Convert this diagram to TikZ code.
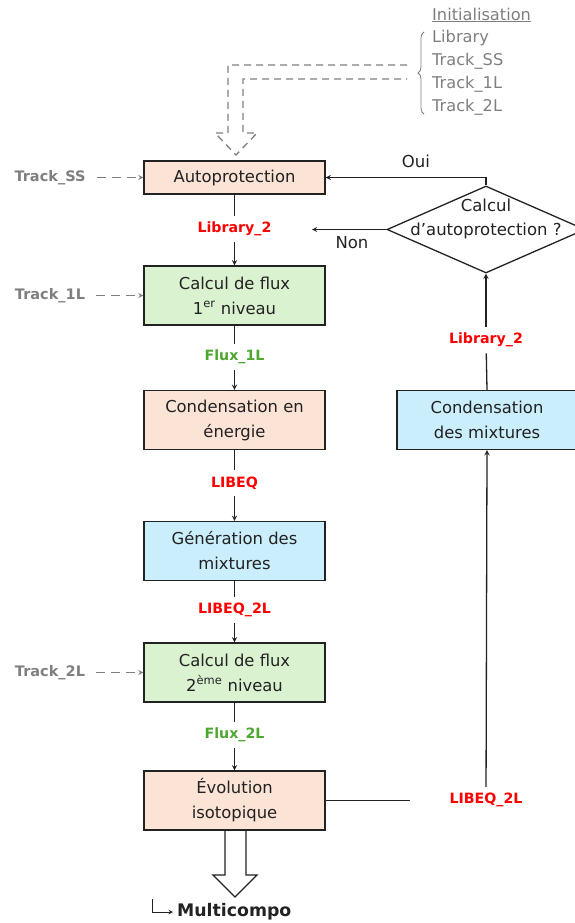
\documentclass[tikz,border=0pt]{standalone}
\usepackage{fontspec}
\setmainfont{DejaVu Sans}
\usetikzlibrary{shapes.geometric,decorations.pathreplacing}
\definecolor{peach}{HTML}{FBE3D6}
\definecolor{lgreen}{HTML}{DAF2D0}
\definecolor{lblue}{HTML}{CAEEFB}
\definecolor{fluxgreen}{HTML}{4EA72E}
\definecolor{libred}{HTML}{FF0000}
\definecolor{initgray}{HTML}{7F7F7F}
\definecolor{ink}{HTML}{222222}
\tikzset{
  box/.style={draw=ink, line width=1.4pt, fill=#1, minimum width=181pt, minimum height=59pt,
    align=center, inner sep=2pt, text=ink, font=\fontsize{16.4}{25}\selectfont},
  redlbl/.style={text=libred, font=\fontsize{14.2}{16}\selectfont\bfseries, inner sep=6pt},
  greenlbl/.style={text=fluxgreen, font=\fontsize{14.2}{16}\selectfont\bfseries, inner sep=6pt},
  graylbl/.style={text=initgray, font=\fontsize{14.5}{16}\selectfont\bfseries, inner sep=4pt},
  inititem/.style={text=initgray, anchor=west, inner sep=0pt, font=\fontsize{16.2}{18}\selectfont},
  txt/.style={text=ink, font=\fontsize{16.5}{24}\selectfont, inner sep=2pt},
  link/.style={draw=ink, line width=1.3pt}
}
\begin{document}
\begin{tikzpicture}[x=1pt, y=-1pt, >=stealth]
\useasboundingbox (0,0) rectangle (574,923);
% main column
\node[box=peach, minimum height=33pt] (auto) at (234.5,177.5) {Autoprotection};
\node[box=lgreen] (flux1) at (234.5,295.5) {Calcul de flux\\1\textsuperscript{er} niveau};
\node[box=peach] (cond) at (234.5,420) {Condensation en\\énergie};
\node[box=lblue] (gen) at (234.5,551) {Génération des\\mixtures};
\node[box=lgreen] (flux2) at (234.5,672.5) {Calcul de flux\\2\textsuperscript{ème} niveau};
\node[box=peach] (evol) at (234.5,800.5) {Évolution\\isotopique};
% right column
\node[box=lblue, minimum width=180pt] (condmix) at (487,420) {Condensation\\des mixtures};
\node[diamond, draw=ink, line width=1.3pt, minimum width=198pt, minimum height=87pt, inner sep=0pt] (dec) at (486,229.5) {};
\node[txt, align=center] (dectxt) at (486,219) {Calcul\\d’autoprotection ?};
% data labels
\node[redlbl] (lib2) at (234.5,229) {Library\_2};
\node[greenlbl] (f1l) at (234.5,357) {Flux\_1L};
\node[redlbl] (libeq) at (234.5,483) {LIBEQ};
\node[redlbl] (libeq2) at (234.5,610) {LIBEQ\_2L};
\node[greenlbl] (f2l) at (234.5,735) {Flux\_2L};
\node[redlbl] (lib2b) at (486,340) {Library\_2};
\node[redlbl] (libeq2b) at (486,800) {LIBEQ\_2L};
\node[txt] (oui) at (416,161) {Oui};
\node[txt] (non) at (352,243) {Non};
\coordinate (nonend) at (312,229.5);
\coordinate (evolend) at (410,800.5);
% inputs
\node[graylbl] (tss) at (50,177.5) {Track\_SS};
\node[graylbl] (t1l) at (50,295.5) {Track\_1L};
\node[graylbl] (t2l) at (50,672.5) {Track\_2L};
\foreach \a/\b in {tss/auto, t1l/flux1, t2l/flux2}
  \draw[initgray, line width=1.2pt, dash pattern=on 9pt off 6pt, ->, shorten <=7pt] (\a) -- (\b);
% flow
\foreach \a/\b/\c in {auto/lib2/flux1, flux1/f1l/cond, cond/libeq/gen, gen/libeq2/flux2, flux2/f2l/evol}{
  \draw[link] (\a) -- (\b);
  \draw[link, ->] (\b) -- (\c);
}
\draw[link] (evol.east) -- (evolend);
\draw[link, ->] (libeq2b) -- (condmix.south);
\draw[link] (condmix.north) -- (lib2b);
\draw[link, ->] (lib2b) -- (dec.south);
\draw[link, ->] (dec.north) |- (auto.east);
\draw[link, ->] (dec.west) -- (nonend);
% initialisation
\node[inititem] (init) at (432,15) {\underline{Initialisation}};
\node[inititem] (ilib) at (432,38) {Library};
\node[inititem] (iss) at (432,61) {Track\_SS};
\node[inititem] (i1l) at (432,84) {Track\_1L};
\node[inititem] (i2l) at (432,107) {Track\_2L};
\coordinate (brb) at (424,114);
\coordinate (brt) at (424,32);
\draw[initgray, line width=0.8pt, decorate, decoration={brace, amplitude=6pt}] (brb) -- (brt);
\coordinate (inita) at (407,65);
\coordinate (initb) at (407,79);
\draw[initgray, line width=1.3pt, dash pattern=on 7pt off 5pt]
  (inita) -| (228,133) -- (215,133) -- (236,155) -- (257,133) -- (243,133) |- (initb);
% output
\draw[link] (225,830) -- (225,875) -- (213,875) -- (235,897) -- (257,875) -- (246,875) -- (246,830);
\node[text=ink, font=\fontsize{17.3}{20}\selectfont\bfseries, anchor=west, inner sep=0pt] (multi) at (177,912) {Multicompo};
\coordinate (hook) at (152,899);
\draw[draw=ink, line width=1pt, ->, shorten >=4pt] (hook) |- (multi.west);
\end{tikzpicture}
\end{document}
